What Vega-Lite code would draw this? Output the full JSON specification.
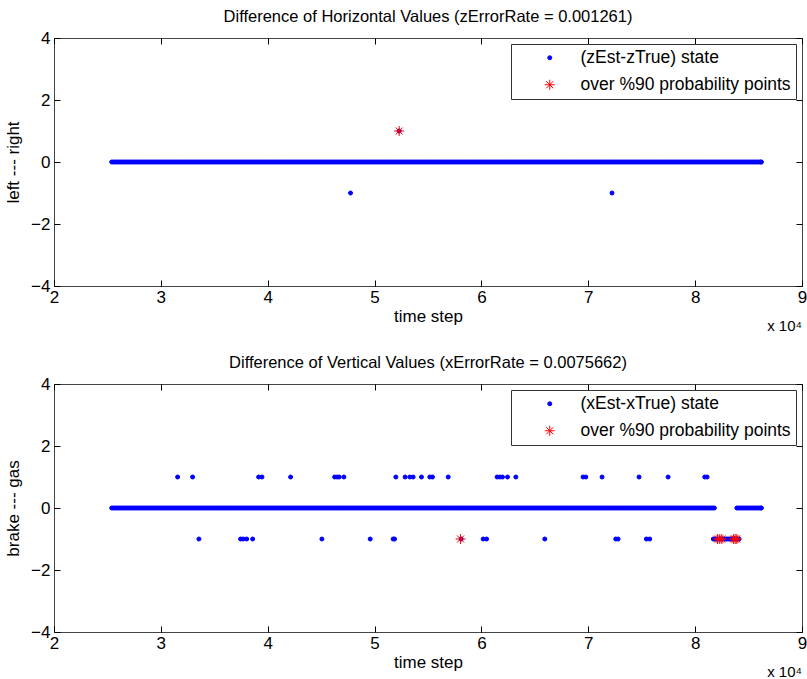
{
"$schema": "https://vega.github.io/schema/vega-lite/v6.json",
"background": "white",
"padding": {"left": 4, "top": 8, "right": 3, "bottom": 0},
"config": {
  "font": "Liberation Sans",
  "view": {"stroke": "#444", "strokeWidth": 1},
  "title": {"fontSize": 16.5, "fontWeight": "normal", "font": "Liberation Sans", "offset": 4, "color": "#000"},
  "axis": {"domain": false, "grid": false, "tickSize": -6, "tickWidth": 1, "tickColor": "#000", "labelFontSize": 17, "labelColor": "#000", "titleFontSize": 17, "titleFontWeight": "normal", "titleColor": "#000", "labelFont": "Liberation Sans", "titleFont": "Liberation Sans"},
  "legend": {"orient": "top-right", "offset": 6, "padding": 5, "strokeColor": "#333", "fillColor": "white", "labelFont": "Liberation Sans", "labelFontSize": 17.5, "labelColor": "#000", "labelLimit": 400, "symbolStrokeWidth": 1, "rowPadding": 8, "symbolOffset": 25, "labelOffset": 22, "title": null, "cornerRadius": 0, "symbolOpacity": 1}
},
"datasets": {
"h": [
{"t":25400,"v":0,"s":"d"},{"t":25700,"v":0,"s":"d"},{"t":26000,"v":0,"s":"d"},{"t":26300,"v":0,"s":"d"},{"t":26600,"v":0,"s":"d"},{"t":26900,"v":0,"s":"d"},{"t":27200,"v":0,"s":"d"},{"t":27500,"v":0,"s":"d"},{"t":27800,"v":0,"s":"d"},{"t":28100,"v":0,"s":"d"},
{"t":28400,"v":0,"s":"d"},{"t":28700,"v":0,"s":"d"},{"t":29000,"v":0,"s":"d"},{"t":29300,"v":0,"s":"d"},{"t":29600,"v":0,"s":"d"},{"t":29900,"v":0,"s":"d"},{"t":30200,"v":0,"s":"d"},{"t":30500,"v":0,"s":"d"},{"t":30800,"v":0,"s":"d"},{"t":31100,"v":0,"s":"d"},
{"t":31400,"v":0,"s":"d"},{"t":31700,"v":0,"s":"d"},{"t":32000,"v":0,"s":"d"},{"t":32300,"v":0,"s":"d"},{"t":32600,"v":0,"s":"d"},{"t":32900,"v":0,"s":"d"},{"t":33200,"v":0,"s":"d"},{"t":33500,"v":0,"s":"d"},{"t":33800,"v":0,"s":"d"},{"t":34100,"v":0,"s":"d"},
{"t":34400,"v":0,"s":"d"},{"t":34700,"v":0,"s":"d"},{"t":35000,"v":0,"s":"d"},{"t":35300,"v":0,"s":"d"},{"t":35600,"v":0,"s":"d"},{"t":35900,"v":0,"s":"d"},{"t":36200,"v":0,"s":"d"},{"t":36500,"v":0,"s":"d"},{"t":36800,"v":0,"s":"d"},{"t":37100,"v":0,"s":"d"},
{"t":37400,"v":0,"s":"d"},{"t":37700,"v":0,"s":"d"},{"t":38000,"v":0,"s":"d"},{"t":38300,"v":0,"s":"d"},{"t":38600,"v":0,"s":"d"},{"t":38900,"v":0,"s":"d"},{"t":39200,"v":0,"s":"d"},{"t":39500,"v":0,"s":"d"},{"t":39800,"v":0,"s":"d"},{"t":40100,"v":0,"s":"d"},
{"t":40400,"v":0,"s":"d"},{"t":40700,"v":0,"s":"d"},{"t":41000,"v":0,"s":"d"},{"t":41300,"v":0,"s":"d"},{"t":41600,"v":0,"s":"d"},{"t":41900,"v":0,"s":"d"},{"t":42200,"v":0,"s":"d"},{"t":42500,"v":0,"s":"d"},{"t":42800,"v":0,"s":"d"},{"t":43100,"v":0,"s":"d"},
{"t":43400,"v":0,"s":"d"},{"t":43700,"v":0,"s":"d"},{"t":44000,"v":0,"s":"d"},{"t":44300,"v":0,"s":"d"},{"t":44600,"v":0,"s":"d"},{"t":44900,"v":0,"s":"d"},{"t":45200,"v":0,"s":"d"},{"t":45500,"v":0,"s":"d"},{"t":45800,"v":0,"s":"d"},{"t":46100,"v":0,"s":"d"},
{"t":46400,"v":0,"s":"d"},{"t":46700,"v":0,"s":"d"},{"t":47000,"v":0,"s":"d"},{"t":47300,"v":0,"s":"d"},{"t":47600,"v":0,"s":"d"},{"t":47900,"v":0,"s":"d"},{"t":48200,"v":0,"s":"d"},{"t":48500,"v":0,"s":"d"},{"t":48800,"v":0,"s":"d"},{"t":49100,"v":0,"s":"d"},
{"t":49400,"v":0,"s":"d"},{"t":49700,"v":0,"s":"d"},{"t":50000,"v":0,"s":"d"},{"t":50300,"v":0,"s":"d"},{"t":50600,"v":0,"s":"d"},{"t":50900,"v":0,"s":"d"},{"t":51200,"v":0,"s":"d"},{"t":51500,"v":0,"s":"d"},{"t":51800,"v":0,"s":"d"},{"t":52100,"v":0,"s":"d"},
{"t":52400,"v":0,"s":"d"},{"t":52700,"v":0,"s":"d"},{"t":53000,"v":0,"s":"d"},{"t":53300,"v":0,"s":"d"},{"t":53600,"v":0,"s":"d"},{"t":53900,"v":0,"s":"d"},{"t":54200,"v":0,"s":"d"},{"t":54500,"v":0,"s":"d"},{"t":54800,"v":0,"s":"d"},{"t":55100,"v":0,"s":"d"},
{"t":55400,"v":0,"s":"d"},{"t":55700,"v":0,"s":"d"},{"t":56000,"v":0,"s":"d"},{"t":56300,"v":0,"s":"d"},{"t":56600,"v":0,"s":"d"},{"t":56900,"v":0,"s":"d"},{"t":57200,"v":0,"s":"d"},{"t":57500,"v":0,"s":"d"},{"t":57800,"v":0,"s":"d"},{"t":58100,"v":0,"s":"d"},
{"t":58400,"v":0,"s":"d"},{"t":58700,"v":0,"s":"d"},{"t":59000,"v":0,"s":"d"},{"t":59300,"v":0,"s":"d"},{"t":59600,"v":0,"s":"d"},{"t":59900,"v":0,"s":"d"},{"t":60200,"v":0,"s":"d"},{"t":60500,"v":0,"s":"d"},{"t":60800,"v":0,"s":"d"},{"t":61100,"v":0,"s":"d"},
{"t":61400,"v":0,"s":"d"},{"t":61700,"v":0,"s":"d"},{"t":62000,"v":0,"s":"d"},{"t":62300,"v":0,"s":"d"},{"t":62600,"v":0,"s":"d"},{"t":62900,"v":0,"s":"d"},{"t":63200,"v":0,"s":"d"},{"t":63500,"v":0,"s":"d"},{"t":63800,"v":0,"s":"d"},{"t":64100,"v":0,"s":"d"},
{"t":64400,"v":0,"s":"d"},{"t":64700,"v":0,"s":"d"},{"t":65000,"v":0,"s":"d"},{"t":65300,"v":0,"s":"d"},{"t":65600,"v":0,"s":"d"},{"t":65900,"v":0,"s":"d"},{"t":66200,"v":0,"s":"d"},{"t":66500,"v":0,"s":"d"},{"t":66800,"v":0,"s":"d"},{"t":67100,"v":0,"s":"d"},
{"t":67400,"v":0,"s":"d"},{"t":67700,"v":0,"s":"d"},{"t":68000,"v":0,"s":"d"},{"t":68300,"v":0,"s":"d"},{"t":68600,"v":0,"s":"d"},{"t":68900,"v":0,"s":"d"},{"t":69200,"v":0,"s":"d"},{"t":69500,"v":0,"s":"d"},{"t":69800,"v":0,"s":"d"},{"t":70100,"v":0,"s":"d"},
{"t":70400,"v":0,"s":"d"},{"t":70700,"v":0,"s":"d"},{"t":71000,"v":0,"s":"d"},{"t":71300,"v":0,"s":"d"},{"t":71600,"v":0,"s":"d"},{"t":71900,"v":0,"s":"d"},{"t":72200,"v":0,"s":"d"},{"t":72500,"v":0,"s":"d"},{"t":72800,"v":0,"s":"d"},{"t":73100,"v":0,"s":"d"},
{"t":73400,"v":0,"s":"d"},{"t":73700,"v":0,"s":"d"},{"t":74000,"v":0,"s":"d"},{"t":74300,"v":0,"s":"d"},{"t":74600,"v":0,"s":"d"},{"t":74900,"v":0,"s":"d"},{"t":75200,"v":0,"s":"d"},{"t":75500,"v":0,"s":"d"},{"t":75800,"v":0,"s":"d"},{"t":76100,"v":0,"s":"d"},
{"t":76400,"v":0,"s":"d"},{"t":76700,"v":0,"s":"d"},{"t":77000,"v":0,"s":"d"},{"t":77300,"v":0,"s":"d"},{"t":77600,"v":0,"s":"d"},{"t":77900,"v":0,"s":"d"},{"t":78200,"v":0,"s":"d"},{"t":78500,"v":0,"s":"d"},{"t":78800,"v":0,"s":"d"},{"t":79100,"v":0,"s":"d"},
{"t":79400,"v":0,"s":"d"},{"t":79700,"v":0,"s":"d"},{"t":80000,"v":0,"s":"d"},{"t":80300,"v":0,"s":"d"},{"t":80600,"v":0,"s":"d"},{"t":80900,"v":0,"s":"d"},{"t":81200,"v":0,"s":"d"},{"t":81500,"v":0,"s":"d"},{"t":81800,"v":0,"s":"d"},{"t":82100,"v":0,"s":"d"},
{"t":82400,"v":0,"s":"d"},{"t":82700,"v":0,"s":"d"},{"t":83000,"v":0,"s":"d"},{"t":83300,"v":0,"s":"d"},{"t":83600,"v":0,"s":"d"},{"t":83900,"v":0,"s":"d"},{"t":84200,"v":0,"s":"d"},{"t":84500,"v":0,"s":"d"},{"t":84800,"v":0,"s":"d"},{"t":85100,"v":0,"s":"d"},
{"t":85400,"v":0,"s":"d"},{"t":85700,"v":0,"s":"d"},{"t":86000,"v":0,"s":"d"},{"t":86200,"v":0,"s":"d"},
{"t":25550,"v":0,"s":"d"},{"t":25850,"v":0,"s":"d"},{"t":26150,"v":0,"s":"d"},{"t":26450,"v":0,"s":"d"},{"t":26750,"v":0,"s":"d"},{"t":27050,"v":0,"s":"d"},{"t":27350,"v":0,"s":"d"},{"t":27650,"v":0,"s":"d"},{"t":27950,"v":0,"s":"d"},{"t":28250,"v":0,"s":"d"},
{"t":28550,"v":0,"s":"d"},{"t":28850,"v":0,"s":"d"},{"t":29150,"v":0,"s":"d"},{"t":29450,"v":0,"s":"d"},{"t":29750,"v":0,"s":"d"},{"t":30050,"v":0,"s":"d"},{"t":30350,"v":0,"s":"d"},{"t":30650,"v":0,"s":"d"},{"t":30950,"v":0,"s":"d"},{"t":31250,"v":0,"s":"d"},
{"t":31550,"v":0,"s":"d"},{"t":31850,"v":0,"s":"d"},{"t":32150,"v":0,"s":"d"},{"t":32450,"v":0,"s":"d"},{"t":32750,"v":0,"s":"d"},{"t":33050,"v":0,"s":"d"},{"t":33350,"v":0,"s":"d"},{"t":33650,"v":0,"s":"d"},{"t":33950,"v":0,"s":"d"},{"t":34250,"v":0,"s":"d"},
{"t":34550,"v":0,"s":"d"},{"t":34850,"v":0,"s":"d"},{"t":35150,"v":0,"s":"d"},{"t":35450,"v":0,"s":"d"},{"t":35750,"v":0,"s":"d"},{"t":36050,"v":0,"s":"d"},{"t":36350,"v":0,"s":"d"},{"t":36650,"v":0,"s":"d"},{"t":36950,"v":0,"s":"d"},{"t":37250,"v":0,"s":"d"},
{"t":37550,"v":0,"s":"d"},{"t":37850,"v":0,"s":"d"},{"t":38150,"v":0,"s":"d"},{"t":38450,"v":0,"s":"d"},{"t":38750,"v":0,"s":"d"},{"t":39050,"v":0,"s":"d"},{"t":39350,"v":0,"s":"d"},{"t":39650,"v":0,"s":"d"},{"t":39950,"v":0,"s":"d"},{"t":40250,"v":0,"s":"d"},
{"t":40550,"v":0,"s":"d"},{"t":40850,"v":0,"s":"d"},{"t":41150,"v":0,"s":"d"},{"t":41450,"v":0,"s":"d"},{"t":41750,"v":0,"s":"d"},{"t":42050,"v":0,"s":"d"},{"t":42350,"v":0,"s":"d"},{"t":42650,"v":0,"s":"d"},{"t":42950,"v":0,"s":"d"},{"t":43250,"v":0,"s":"d"},
{"t":43550,"v":0,"s":"d"},{"t":43850,"v":0,"s":"d"},{"t":44150,"v":0,"s":"d"},{"t":44450,"v":0,"s":"d"},{"t":44750,"v":0,"s":"d"},{"t":45050,"v":0,"s":"d"},{"t":45350,"v":0,"s":"d"},{"t":45650,"v":0,"s":"d"},{"t":45950,"v":0,"s":"d"},{"t":46250,"v":0,"s":"d"},
{"t":46550,"v":0,"s":"d"},{"t":46850,"v":0,"s":"d"},{"t":47150,"v":0,"s":"d"},{"t":47450,"v":0,"s":"d"},{"t":47750,"v":0,"s":"d"},{"t":48050,"v":0,"s":"d"},{"t":48350,"v":0,"s":"d"},{"t":48650,"v":0,"s":"d"},{"t":48950,"v":0,"s":"d"},{"t":49250,"v":0,"s":"d"},
{"t":49550,"v":0,"s":"d"},{"t":49850,"v":0,"s":"d"},{"t":50150,"v":0,"s":"d"},{"t":50450,"v":0,"s":"d"},{"t":50750,"v":0,"s":"d"},{"t":51050,"v":0,"s":"d"},{"t":51350,"v":0,"s":"d"},{"t":51650,"v":0,"s":"d"},{"t":51950,"v":0,"s":"d"},{"t":52250,"v":0,"s":"d"},
{"t":52550,"v":0,"s":"d"},{"t":52850,"v":0,"s":"d"},{"t":53150,"v":0,"s":"d"},{"t":53450,"v":0,"s":"d"},{"t":53750,"v":0,"s":"d"},{"t":54050,"v":0,"s":"d"},{"t":54350,"v":0,"s":"d"},{"t":54650,"v":0,"s":"d"},{"t":54950,"v":0,"s":"d"},{"t":55250,"v":0,"s":"d"},
{"t":55550,"v":0,"s":"d"},{"t":55850,"v":0,"s":"d"},{"t":56150,"v":0,"s":"d"},{"t":56450,"v":0,"s":"d"},{"t":56750,"v":0,"s":"d"},{"t":57050,"v":0,"s":"d"},{"t":57350,"v":0,"s":"d"},{"t":57650,"v":0,"s":"d"},{"t":57950,"v":0,"s":"d"},{"t":58250,"v":0,"s":"d"},
{"t":58550,"v":0,"s":"d"},{"t":58850,"v":0,"s":"d"},{"t":59150,"v":0,"s":"d"},{"t":59450,"v":0,"s":"d"},{"t":59750,"v":0,"s":"d"},{"t":60050,"v":0,"s":"d"},{"t":60350,"v":0,"s":"d"},{"t":60650,"v":0,"s":"d"},{"t":60950,"v":0,"s":"d"},{"t":61250,"v":0,"s":"d"},
{"t":61550,"v":0,"s":"d"},{"t":61850,"v":0,"s":"d"},{"t":62150,"v":0,"s":"d"},{"t":62450,"v":0,"s":"d"},{"t":62750,"v":0,"s":"d"},{"t":63050,"v":0,"s":"d"},{"t":63350,"v":0,"s":"d"},{"t":63650,"v":0,"s":"d"},{"t":63950,"v":0,"s":"d"},{"t":64250,"v":0,"s":"d"},
{"t":64550,"v":0,"s":"d"},{"t":64850,"v":0,"s":"d"},{"t":65150,"v":0,"s":"d"},{"t":65450,"v":0,"s":"d"},{"t":65750,"v":0,"s":"d"},{"t":66050,"v":0,"s":"d"},{"t":66350,"v":0,"s":"d"},{"t":66650,"v":0,"s":"d"},{"t":66950,"v":0,"s":"d"},{"t":67250,"v":0,"s":"d"},
{"t":67550,"v":0,"s":"d"},{"t":67850,"v":0,"s":"d"},{"t":68150,"v":0,"s":"d"},{"t":68450,"v":0,"s":"d"},{"t":68750,"v":0,"s":"d"},{"t":69050,"v":0,"s":"d"},{"t":69350,"v":0,"s":"d"},{"t":69650,"v":0,"s":"d"},{"t":69950,"v":0,"s":"d"},{"t":70250,"v":0,"s":"d"},
{"t":70550,"v":0,"s":"d"},{"t":70850,"v":0,"s":"d"},{"t":71150,"v":0,"s":"d"},{"t":71450,"v":0,"s":"d"},{"t":71750,"v":0,"s":"d"},{"t":72050,"v":0,"s":"d"},{"t":72350,"v":0,"s":"d"},{"t":72650,"v":0,"s":"d"},{"t":72950,"v":0,"s":"d"},{"t":73250,"v":0,"s":"d"},
{"t":73550,"v":0,"s":"d"},{"t":73850,"v":0,"s":"d"},{"t":74150,"v":0,"s":"d"},{"t":74450,"v":0,"s":"d"},{"t":74750,"v":0,"s":"d"},{"t":75050,"v":0,"s":"d"},{"t":75350,"v":0,"s":"d"},{"t":75650,"v":0,"s":"d"},{"t":75950,"v":0,"s":"d"},{"t":76250,"v":0,"s":"d"},
{"t":76550,"v":0,"s":"d"},{"t":76850,"v":0,"s":"d"},{"t":77150,"v":0,"s":"d"},{"t":77450,"v":0,"s":"d"},{"t":77750,"v":0,"s":"d"},{"t":78050,"v":0,"s":"d"},{"t":78350,"v":0,"s":"d"},{"t":78650,"v":0,"s":"d"},{"t":78950,"v":0,"s":"d"},{"t":79250,"v":0,"s":"d"},
{"t":79550,"v":0,"s":"d"},{"t":79850,"v":0,"s":"d"},{"t":80150,"v":0,"s":"d"},{"t":80450,"v":0,"s":"d"},{"t":80750,"v":0,"s":"d"},{"t":81050,"v":0,"s":"d"},{"t":81350,"v":0,"s":"d"},{"t":81650,"v":0,"s":"d"},{"t":81950,"v":0,"s":"d"},{"t":82250,"v":0,"s":"d"},
{"t":82550,"v":0,"s":"d"},{"t":82850,"v":0,"s":"d"},{"t":83150,"v":0,"s":"d"},{"t":83450,"v":0,"s":"d"},{"t":83750,"v":0,"s":"d"},{"t":84050,"v":0,"s":"d"},{"t":84350,"v":0,"s":"d"},{"t":84650,"v":0,"s":"d"},{"t":84950,"v":0,"s":"d"},{"t":85250,"v":0,"s":"d"},
{"t":85550,"v":0,"s":"d"},{"t":85850,"v":0,"s":"d"},{"t":86150,"v":0,"s":"d"},
{"t":47750,"v":-1,"s":"d"},{"t":72220,"v":-1,"s":"d"},{"t":52300,"v":1,"s":"d"},
{"t":52300,"v":1,"s":"p"}
],
"v": [
{"t":25400,"v":0,"s":"d"},{"t":25700,"v":0,"s":"d"},{"t":26000,"v":0,"s":"d"},{"t":26300,"v":0,"s":"d"},{"t":26600,"v":0,"s":"d"},{"t":26900,"v":0,"s":"d"},{"t":27200,"v":0,"s":"d"},{"t":27500,"v":0,"s":"d"},{"t":27800,"v":0,"s":"d"},{"t":28100,"v":0,"s":"d"},
{"t":28400,"v":0,"s":"d"},{"t":28700,"v":0,"s":"d"},{"t":29000,"v":0,"s":"d"},{"t":29300,"v":0,"s":"d"},{"t":29600,"v":0,"s":"d"},{"t":29900,"v":0,"s":"d"},{"t":30200,"v":0,"s":"d"},{"t":30500,"v":0,"s":"d"},{"t":30800,"v":0,"s":"d"},{"t":31100,"v":0,"s":"d"},
{"t":31400,"v":0,"s":"d"},{"t":31700,"v":0,"s":"d"},{"t":32000,"v":0,"s":"d"},{"t":32300,"v":0,"s":"d"},{"t":32600,"v":0,"s":"d"},{"t":32900,"v":0,"s":"d"},{"t":33200,"v":0,"s":"d"},{"t":33500,"v":0,"s":"d"},{"t":33800,"v":0,"s":"d"},{"t":34100,"v":0,"s":"d"},
{"t":34400,"v":0,"s":"d"},{"t":34700,"v":0,"s":"d"},{"t":35000,"v":0,"s":"d"},{"t":35300,"v":0,"s":"d"},{"t":35600,"v":0,"s":"d"},{"t":35900,"v":0,"s":"d"},{"t":36200,"v":0,"s":"d"},{"t":36500,"v":0,"s":"d"},{"t":36800,"v":0,"s":"d"},{"t":37100,"v":0,"s":"d"},
{"t":37400,"v":0,"s":"d"},{"t":37700,"v":0,"s":"d"},{"t":38000,"v":0,"s":"d"},{"t":38300,"v":0,"s":"d"},{"t":38600,"v":0,"s":"d"},{"t":38900,"v":0,"s":"d"},{"t":39200,"v":0,"s":"d"},{"t":39500,"v":0,"s":"d"},{"t":39800,"v":0,"s":"d"},{"t":40100,"v":0,"s":"d"},
{"t":40400,"v":0,"s":"d"},{"t":40700,"v":0,"s":"d"},{"t":41000,"v":0,"s":"d"},{"t":41300,"v":0,"s":"d"},{"t":41600,"v":0,"s":"d"},{"t":41900,"v":0,"s":"d"},{"t":42200,"v":0,"s":"d"},{"t":42500,"v":0,"s":"d"},{"t":42800,"v":0,"s":"d"},{"t":43100,"v":0,"s":"d"},
{"t":43400,"v":0,"s":"d"},{"t":43700,"v":0,"s":"d"},{"t":44000,"v":0,"s":"d"},{"t":44300,"v":0,"s":"d"},{"t":44600,"v":0,"s":"d"},{"t":44900,"v":0,"s":"d"},{"t":45200,"v":0,"s":"d"},{"t":45500,"v":0,"s":"d"},{"t":45800,"v":0,"s":"d"},{"t":46100,"v":0,"s":"d"},
{"t":46400,"v":0,"s":"d"},{"t":46700,"v":0,"s":"d"},{"t":47000,"v":0,"s":"d"},{"t":47300,"v":0,"s":"d"},{"t":47600,"v":0,"s":"d"},{"t":47900,"v":0,"s":"d"},{"t":48200,"v":0,"s":"d"},{"t":48500,"v":0,"s":"d"},{"t":48800,"v":0,"s":"d"},{"t":49100,"v":0,"s":"d"},
{"t":49400,"v":0,"s":"d"},{"t":49700,"v":0,"s":"d"},{"t":50000,"v":0,"s":"d"},{"t":50300,"v":0,"s":"d"},{"t":50600,"v":0,"s":"d"},{"t":50900,"v":0,"s":"d"},{"t":51200,"v":0,"s":"d"},{"t":51500,"v":0,"s":"d"},{"t":51800,"v":0,"s":"d"},{"t":52100,"v":0,"s":"d"},
{"t":52400,"v":0,"s":"d"},{"t":52700,"v":0,"s":"d"},{"t":53000,"v":0,"s":"d"},{"t":53300,"v":0,"s":"d"},{"t":53600,"v":0,"s":"d"},{"t":53900,"v":0,"s":"d"},{"t":54200,"v":0,"s":"d"},{"t":54500,"v":0,"s":"d"},{"t":54800,"v":0,"s":"d"},{"t":55100,"v":0,"s":"d"},
{"t":55400,"v":0,"s":"d"},{"t":55700,"v":0,"s":"d"},{"t":56000,"v":0,"s":"d"},{"t":56300,"v":0,"s":"d"},{"t":56600,"v":0,"s":"d"},{"t":56900,"v":0,"s":"d"},{"t":57200,"v":0,"s":"d"},{"t":57500,"v":0,"s":"d"},{"t":57800,"v":0,"s":"d"},{"t":58100,"v":0,"s":"d"},
{"t":58400,"v":0,"s":"d"},{"t":58700,"v":0,"s":"d"},{"t":59000,"v":0,"s":"d"},{"t":59300,"v":0,"s":"d"},{"t":59600,"v":0,"s":"d"},{"t":59900,"v":0,"s":"d"},{"t":60200,"v":0,"s":"d"},{"t":60500,"v":0,"s":"d"},{"t":60800,"v":0,"s":"d"},{"t":61100,"v":0,"s":"d"},
{"t":61400,"v":0,"s":"d"},{"t":61700,"v":0,"s":"d"},{"t":62000,"v":0,"s":"d"},{"t":62300,"v":0,"s":"d"},{"t":62600,"v":0,"s":"d"},{"t":62900,"v":0,"s":"d"},{"t":63200,"v":0,"s":"d"},{"t":63500,"v":0,"s":"d"},{"t":63800,"v":0,"s":"d"},{"t":64100,"v":0,"s":"d"},
{"t":64400,"v":0,"s":"d"},{"t":64700,"v":0,"s":"d"},{"t":65000,"v":0,"s":"d"},{"t":65300,"v":0,"s":"d"},{"t":65600,"v":0,"s":"d"},{"t":65900,"v":0,"s":"d"},{"t":66200,"v":0,"s":"d"},{"t":66500,"v":0,"s":"d"},{"t":66800,"v":0,"s":"d"},{"t":67100,"v":0,"s":"d"},
{"t":67400,"v":0,"s":"d"},{"t":67700,"v":0,"s":"d"},{"t":68000,"v":0,"s":"d"},{"t":68300,"v":0,"s":"d"},{"t":68600,"v":0,"s":"d"},{"t":68900,"v":0,"s":"d"},{"t":69200,"v":0,"s":"d"},{"t":69500,"v":0,"s":"d"},{"t":69800,"v":0,"s":"d"},{"t":70100,"v":0,"s":"d"},
{"t":70400,"v":0,"s":"d"},{"t":70700,"v":0,"s":"d"},{"t":71000,"v":0,"s":"d"},{"t":71300,"v":0,"s":"d"},{"t":71600,"v":0,"s":"d"},{"t":71900,"v":0,"s":"d"},{"t":72200,"v":0,"s":"d"},{"t":72500,"v":0,"s":"d"},{"t":72800,"v":0,"s":"d"},{"t":73100,"v":0,"s":"d"},
{"t":73400,"v":0,"s":"d"},{"t":73700,"v":0,"s":"d"},{"t":74000,"v":0,"s":"d"},{"t":74300,"v":0,"s":"d"},{"t":74600,"v":0,"s":"d"},{"t":74900,"v":0,"s":"d"},{"t":75200,"v":0,"s":"d"},{"t":75500,"v":0,"s":"d"},{"t":75800,"v":0,"s":"d"},{"t":76100,"v":0,"s":"d"},
{"t":76400,"v":0,"s":"d"},{"t":76700,"v":0,"s":"d"},{"t":77000,"v":0,"s":"d"},{"t":77300,"v":0,"s":"d"},{"t":77600,"v":0,"s":"d"},{"t":77900,"v":0,"s":"d"},{"t":78200,"v":0,"s":"d"},{"t":78500,"v":0,"s":"d"},{"t":78800,"v":0,"s":"d"},{"t":79100,"v":0,"s":"d"},
{"t":79400,"v":0,"s":"d"},{"t":79700,"v":0,"s":"d"},{"t":80000,"v":0,"s":"d"},{"t":80300,"v":0,"s":"d"},{"t":80600,"v":0,"s":"d"},{"t":80900,"v":0,"s":"d"},{"t":81200,"v":0,"s":"d"},{"t":81500,"v":0,"s":"d"},{"t":81800,"v":0,"s":"d"},
{"t":83900,"v":0,"s":"d"},{"t":84200,"v":0,"s":"d"},{"t":84500,"v":0,"s":"d"},{"t":84800,"v":0,"s":"d"},{"t":85100,"v":0,"s":"d"},{"t":85400,"v":0,"s":"d"},{"t":85700,"v":0,"s":"d"},{"t":86000,"v":0,"s":"d"},{"t":86200,"v":0,"s":"d"},
{"t":25550,"v":0,"s":"d"},{"t":25850,"v":0,"s":"d"},{"t":26150,"v":0,"s":"d"},{"t":26450,"v":0,"s":"d"},{"t":26750,"v":0,"s":"d"},{"t":27050,"v":0,"s":"d"},{"t":27350,"v":0,"s":"d"},{"t":27650,"v":0,"s":"d"},{"t":27950,"v":0,"s":"d"},{"t":28250,"v":0,"s":"d"},
{"t":28550,"v":0,"s":"d"},{"t":28850,"v":0,"s":"d"},{"t":29150,"v":0,"s":"d"},{"t":29450,"v":0,"s":"d"},{"t":29750,"v":0,"s":"d"},{"t":30050,"v":0,"s":"d"},{"t":30350,"v":0,"s":"d"},{"t":30650,"v":0,"s":"d"},{"t":30950,"v":0,"s":"d"},{"t":31250,"v":0,"s":"d"},
{"t":31550,"v":0,"s":"d"},{"t":31850,"v":0,"s":"d"},{"t":32150,"v":0,"s":"d"},{"t":32450,"v":0,"s":"d"},{"t":32750,"v":0,"s":"d"},{"t":33050,"v":0,"s":"d"},{"t":33350,"v":0,"s":"d"},{"t":33650,"v":0,"s":"d"},{"t":33950,"v":0,"s":"d"},{"t":34250,"v":0,"s":"d"},
{"t":34550,"v":0,"s":"d"},{"t":34850,"v":0,"s":"d"},{"t":35150,"v":0,"s":"d"},{"t":35450,"v":0,"s":"d"},{"t":35750,"v":0,"s":"d"},{"t":36050,"v":0,"s":"d"},{"t":36350,"v":0,"s":"d"},{"t":36650,"v":0,"s":"d"},{"t":36950,"v":0,"s":"d"},{"t":37250,"v":0,"s":"d"},
{"t":37550,"v":0,"s":"d"},{"t":37850,"v":0,"s":"d"},{"t":38150,"v":0,"s":"d"},{"t":38450,"v":0,"s":"d"},{"t":38750,"v":0,"s":"d"},{"t":39050,"v":0,"s":"d"},{"t":39350,"v":0,"s":"d"},{"t":39650,"v":0,"s":"d"},{"t":39950,"v":0,"s":"d"},{"t":40250,"v":0,"s":"d"},
{"t":40550,"v":0,"s":"d"},{"t":40850,"v":0,"s":"d"},{"t":41150,"v":0,"s":"d"},{"t":41450,"v":0,"s":"d"},{"t":41750,"v":0,"s":"d"},{"t":42050,"v":0,"s":"d"},{"t":42350,"v":0,"s":"d"},{"t":42650,"v":0,"s":"d"},{"t":42950,"v":0,"s":"d"},{"t":43250,"v":0,"s":"d"},
{"t":43550,"v":0,"s":"d"},{"t":43850,"v":0,"s":"d"},{"t":44150,"v":0,"s":"d"},{"t":44450,"v":0,"s":"d"},{"t":44750,"v":0,"s":"d"},{"t":45050,"v":0,"s":"d"},{"t":45350,"v":0,"s":"d"},{"t":45650,"v":0,"s":"d"},{"t":45950,"v":0,"s":"d"},{"t":46250,"v":0,"s":"d"},
{"t":46550,"v":0,"s":"d"},{"t":46850,"v":0,"s":"d"},{"t":47150,"v":0,"s":"d"},{"t":47450,"v":0,"s":"d"},{"t":47750,"v":0,"s":"d"},{"t":48050,"v":0,"s":"d"},{"t":48350,"v":0,"s":"d"},{"t":48650,"v":0,"s":"d"},{"t":48950,"v":0,"s":"d"},{"t":49250,"v":0,"s":"d"},
{"t":49550,"v":0,"s":"d"},{"t":49850,"v":0,"s":"d"},{"t":50150,"v":0,"s":"d"},{"t":50450,"v":0,"s":"d"},{"t":50750,"v":0,"s":"d"},{"t":51050,"v":0,"s":"d"},{"t":51350,"v":0,"s":"d"},{"t":51650,"v":0,"s":"d"},{"t":51950,"v":0,"s":"d"},{"t":52250,"v":0,"s":"d"},
{"t":52550,"v":0,"s":"d"},{"t":52850,"v":0,"s":"d"},{"t":53150,"v":0,"s":"d"},{"t":53450,"v":0,"s":"d"},{"t":53750,"v":0,"s":"d"},{"t":54050,"v":0,"s":"d"},{"t":54350,"v":0,"s":"d"},{"t":54650,"v":0,"s":"d"},{"t":54950,"v":0,"s":"d"},{"t":55250,"v":0,"s":"d"},
{"t":55550,"v":0,"s":"d"},{"t":55850,"v":0,"s":"d"},{"t":56150,"v":0,"s":"d"},{"t":56450,"v":0,"s":"d"},{"t":56750,"v":0,"s":"d"},{"t":57050,"v":0,"s":"d"},{"t":57350,"v":0,"s":"d"},{"t":57650,"v":0,"s":"d"},{"t":57950,"v":0,"s":"d"},{"t":58250,"v":0,"s":"d"},
{"t":58550,"v":0,"s":"d"},{"t":58850,"v":0,"s":"d"},{"t":59150,"v":0,"s":"d"},{"t":59450,"v":0,"s":"d"},{"t":59750,"v":0,"s":"d"},{"t":60050,"v":0,"s":"d"},{"t":60350,"v":0,"s":"d"},{"t":60650,"v":0,"s":"d"},{"t":60950,"v":0,"s":"d"},{"t":61250,"v":0,"s":"d"},
{"t":61550,"v":0,"s":"d"},{"t":61850,"v":0,"s":"d"},{"t":62150,"v":0,"s":"d"},{"t":62450,"v":0,"s":"d"},{"t":62750,"v":0,"s":"d"},{"t":63050,"v":0,"s":"d"},{"t":63350,"v":0,"s":"d"},{"t":63650,"v":0,"s":"d"},{"t":63950,"v":0,"s":"d"},{"t":64250,"v":0,"s":"d"},
{"t":64550,"v":0,"s":"d"},{"t":64850,"v":0,"s":"d"},{"t":65150,"v":0,"s":"d"},{"t":65450,"v":0,"s":"d"},{"t":65750,"v":0,"s":"d"},{"t":66050,"v":0,"s":"d"},{"t":66350,"v":0,"s":"d"},{"t":66650,"v":0,"s":"d"},{"t":66950,"v":0,"s":"d"},{"t":67250,"v":0,"s":"d"},
{"t":67550,"v":0,"s":"d"},{"t":67850,"v":0,"s":"d"},{"t":68150,"v":0,"s":"d"},{"t":68450,"v":0,"s":"d"},{"t":68750,"v":0,"s":"d"},{"t":69050,"v":0,"s":"d"},{"t":69350,"v":0,"s":"d"},{"t":69650,"v":0,"s":"d"},{"t":69950,"v":0,"s":"d"},{"t":70250,"v":0,"s":"d"},
{"t":70550,"v":0,"s":"d"},{"t":70850,"v":0,"s":"d"},{"t":71150,"v":0,"s":"d"},{"t":71450,"v":0,"s":"d"},{"t":71750,"v":0,"s":"d"},{"t":72050,"v":0,"s":"d"},{"t":72350,"v":0,"s":"d"},{"t":72650,"v":0,"s":"d"},{"t":72950,"v":0,"s":"d"},{"t":73250,"v":0,"s":"d"},
{"t":73550,"v":0,"s":"d"},{"t":73850,"v":0,"s":"d"},{"t":74150,"v":0,"s":"d"},{"t":74450,"v":0,"s":"d"},{"t":74750,"v":0,"s":"d"},{"t":75050,"v":0,"s":"d"},{"t":75350,"v":0,"s":"d"},{"t":75650,"v":0,"s":"d"},{"t":75950,"v":0,"s":"d"},{"t":76250,"v":0,"s":"d"},
{"t":76550,"v":0,"s":"d"},{"t":76850,"v":0,"s":"d"},{"t":77150,"v":0,"s":"d"},{"t":77450,"v":0,"s":"d"},{"t":77750,"v":0,"s":"d"},{"t":78050,"v":0,"s":"d"},{"t":78350,"v":0,"s":"d"},{"t":78650,"v":0,"s":"d"},{"t":78950,"v":0,"s":"d"},{"t":79250,"v":0,"s":"d"},
{"t":79550,"v":0,"s":"d"},{"t":79850,"v":0,"s":"d"},{"t":80150,"v":0,"s":"d"},{"t":80450,"v":0,"s":"d"},{"t":80750,"v":0,"s":"d"},{"t":81050,"v":0,"s":"d"},{"t":81350,"v":0,"s":"d"},{"t":81650,"v":0,"s":"d"},
{"t":84050,"v":0,"s":"d"},{"t":84350,"v":0,"s":"d"},{"t":84650,"v":0,"s":"d"},{"t":84950,"v":0,"s":"d"},{"t":85250,"v":0,"s":"d"},{"t":85550,"v":0,"s":"d"},{"t":85850,"v":0,"s":"d"},{"t":86150,"v":0,"s":"d"},
{"t":31570,"v":1,"s":"d"},{"t":32970,"v":1,"s":"d"},{"t":39150,"v":1,"s":"d"},{"t":39460,"v":1,"s":"d"},{"t":42140,"v":1,"s":"d"},{"t":46260,"v":1,"s":"d"},{"t":46500,"v":1,"s":"d"},{"t":46690,"v":1,"s":"d"},{"t":47130,"v":1,"s":"d"},{"t":51990,"v":1,"s":"d"},
{"t":52860,"v":1,"s":"d"},{"t":53300,"v":1,"s":"d"},{"t":53610,"v":1,"s":"d"},{"t":54390,"v":1,"s":"d"},{"t":55170,"v":1,"s":"d"},{"t":55420,"v":1,"s":"d"},{"t":56890,"v":1,"s":"d"},{"t":61470,"v":1,"s":"d"},{"t":61720,"v":1,"s":"d"},{"t":61970,"v":1,"s":"d"},
{"t":62440,"v":1,"s":"d"},{"t":63220,"v":1,"s":"d"},{"t":69510,"v":1,"s":"d"},{"t":69770,"v":1,"s":"d"},{"t":71290,"v":1,"s":"d"},{"t":74750,"v":1,"s":"d"},{"t":77470,"v":1,"s":"d"},{"t":80900,"v":1,"s":"d"},{"t":81120,"v":1,"s":"d"},
{"t":33560,"v":-1,"s":"d"},{"t":37460,"v":-1,"s":"d"},{"t":37710,"v":-1,"s":"d"},{"t":38030,"v":-1,"s":"d"},{"t":38590,"v":-1,"s":"d"},{"t":45070,"v":-1,"s":"d"},{"t":49590,"v":-1,"s":"d"},{"t":51740,"v":-1,"s":"d"},{"t":51870,"v":-1,"s":"d"},{"t":58100,"v":-1,"s":"d"},
{"t":60160,"v":-1,"s":"d"},{"t":60480,"v":-1,"s":"d"},{"t":65930,"v":-1,"s":"d"},{"t":72570,"v":-1,"s":"d"},{"t":72790,"v":-1,"s":"d"},{"t":75440,"v":-1,"s":"d"},{"t":75750,"v":-1,"s":"d"},
{"t":81700,"v":-1,"s":"d"},{"t":81850,"v":-1,"s":"d"},{"t":82000,"v":-1,"s":"d"},{"t":82150,"v":-1,"s":"d"},{"t":82300,"v":-1,"s":"d"},{"t":82450,"v":-1,"s":"d"},{"t":82600,"v":-1,"s":"d"},{"t":82750,"v":-1,"s":"d"},{"t":82900,"v":-1,"s":"d"},{"t":83050,"v":-1,"s":"d"},
{"t":83200,"v":-1,"s":"d"},{"t":83350,"v":-1,"s":"d"},{"t":83500,"v":-1,"s":"d"},{"t":83650,"v":-1,"s":"d"},{"t":83800,"v":-1,"s":"d"},{"t":83950,"v":-1,"s":"d"},{"t":84100,"v":-1,"s":"d"},
{"t":58050,"v":-1,"s":"p"},{"t":82100,"v":-1,"s":"p"},{"t":82300,"v":-1,"s":"p"},{"t":82500,"v":-1,"s":"p"},{"t":83600,"v":-1,"s":"p"},{"t":83750,"v":-1,"s":"p"},{"t":83900,"v":-1,"s":"p"}
]
},
"spacing": 19,
"resolve": {
  "scale": {"fill": "independent", "stroke": "independent", "shape": "independent", "size": "independent"},
  "legend": {"fill": "independent", "stroke": "independent", "shape": "independent", "size": "independent"}
},
"vconcat": [
{
  "title": "Difference of Horizontal Values (zErrorRate = 0.001261)",
  "width": 748, "height": 248,
  "layer": [
    {
      "data": {"name": "h"},
      "mark": {"type": "point", "filled": true, "strokeWidth": 1, "opacity": 1},
      "encoding": {
        "x": {"field": "t", "type": "quantitative", "scale": {"domain": [20000, 90000], "nice": false, "zero": false},
              "axis": {"values": [20000,30000,40000,50000,60000,70000,80000,90000], "labelExpr": "datum.value/10000", "labelFlush": false, "title": "time step", "labelPadding": 9, "titlePadding": 3}},
        "y": {"field": "v", "type": "quantitative", "scale": {"domain": [-4, 4], "nice": false},
              "axis": {"values": [-4,-2,0,2,4], "title": "left --- right", "labelPadding": 10, "titlePadding": 8}},
        "fill": {"field": "s", "type": "nominal", "scale": {"domain": ["d","p"], "range": ["#0000ff","#ff0000"]},
                 "legend": {"labelExpr": "datum.value == 'd' ? '(zEst-zTrue) state' : 'over %90 probability points'"}},
        "stroke": {"field": "s", "type": "nominal", "scale": {"domain": ["d","p"], "range": ["#0000ff","#ff0000"]}},
        "shape": {"field": "s", "type": "nominal", "scale": {"domain": ["d","p"], "range": ["circle", "M-1,0L1,0M0,-1L0,1M-0.7,-0.7L0.7,0.7M-0.7,0.7L0.7,-0.7"]}},
        "size": {"field": "s", "type": "nominal", "scale": {"type": "point", "padding": 0, "domain": ["d","p"], "range": [16, 100]}}
      }
    },
    {
      "data": {"values": [{}]},
      "mark": {"type": "text", "text": "x 10⁴", "align": "right", "baseline": "middle", "dy": 40, "dx": 0, "fontSize": 15, "font": "Liberation Sans", "color": "#000"},
      "encoding": {
        "x": {"datum": 90000, "type": "quantitative", "axis": null},
        "y": {"datum": -4, "type": "quantitative", "axis": null}
      }
    },
    {
      "data": {"values": [{}]},
      "mark": {"type": "point", "opacity": 0},
      "encoding": {
        "x": {"datum": 50000, "type": "quantitative", "axis": {"orient": "top", "labels": false, "title": null, "values": [20000,30000,40000,50000,60000,70000,80000,90000]}},
        "y": {"datum": 0, "type": "quantitative", "axis": {"orient": "right", "labels": false, "title": null, "values": [-4,-2,0,2,4]}}
      }
    }
  ],
  "resolve": {"axis": {"x": "independent", "y": "independent"}}
},
{
  "title": "Difference of Vertical Values (xErrorRate = 0.0075662)",
  "width": 748, "height": 248,
  "layer": [
    {
      "data": {"name": "v"},
      "mark": {"type": "point", "filled": true, "strokeWidth": 1, "opacity": 1},
      "encoding": {
        "x": {"field": "t", "type": "quantitative", "scale": {"domain": [20000, 90000], "nice": false, "zero": false},
              "axis": {"values": [20000,30000,40000,50000,60000,70000,80000,90000], "labelExpr": "datum.value/10000", "labelFlush": false, "title": "time step", "labelPadding": 9, "titlePadding": 3}},
        "y": {"field": "v", "type": "quantitative", "scale": {"domain": [-4, 4], "nice": false},
              "axis": {"values": [-4,-2,0,2,4], "title": "brake --- gas", "labelPadding": 10, "titlePadding": 8}},
        "fill": {"field": "s", "type": "nominal", "scale": {"domain": ["d","p"], "range": ["#0000ff","#ff0000"]},
                 "legend": {"labelExpr": "datum.value == 'd' ? '(xEst-xTrue) state' : 'over %90 probability points'"}},
        "stroke": {"field": "s", "type": "nominal", "scale": {"domain": ["d","p"], "range": ["#0000ff","#ff0000"]}},
        "shape": {"field": "s", "type": "nominal", "scale": {"domain": ["d","p"], "range": ["circle", "M-1,0L1,0M0,-1L0,1M-0.7,-0.7L0.7,0.7M-0.7,0.7L0.7,-0.7"]}},
        "size": {"field": "s", "type": "nominal", "scale": {"type": "point", "padding": 0, "domain": ["d","p"], "range": [16, 100]}}
      }
    },
    {
      "data": {"values": [{}]},
      "mark": {"type": "text", "text": "x 10⁴", "align": "right", "baseline": "middle", "dy": 40, "dx": 0, "fontSize": 15, "font": "Liberation Sans", "color": "#000"},
      "encoding": {
        "x": {"datum": 90000, "type": "quantitative", "axis": null},
        "y": {"datum": -4, "type": "quantitative", "axis": null}
      }
    },
    {
      "data": {"values": [{}]},
      "mark": {"type": "point", "opacity": 0},
      "encoding": {
        "x": {"datum": 50000, "type": "quantitative", "axis": {"orient": "top", "labels": false, "title": null, "values": [20000,30000,40000,50000,60000,70000,80000,90000]}},
        "y": {"datum": 0, "type": "quantitative", "axis": {"orient": "right", "labels": false, "title": null, "values": [-4,-2,0,2,4]}}
      }
    }
  ],
  "resolve": {"axis": {"x": "independent", "y": "independent"}}
}
]
}
